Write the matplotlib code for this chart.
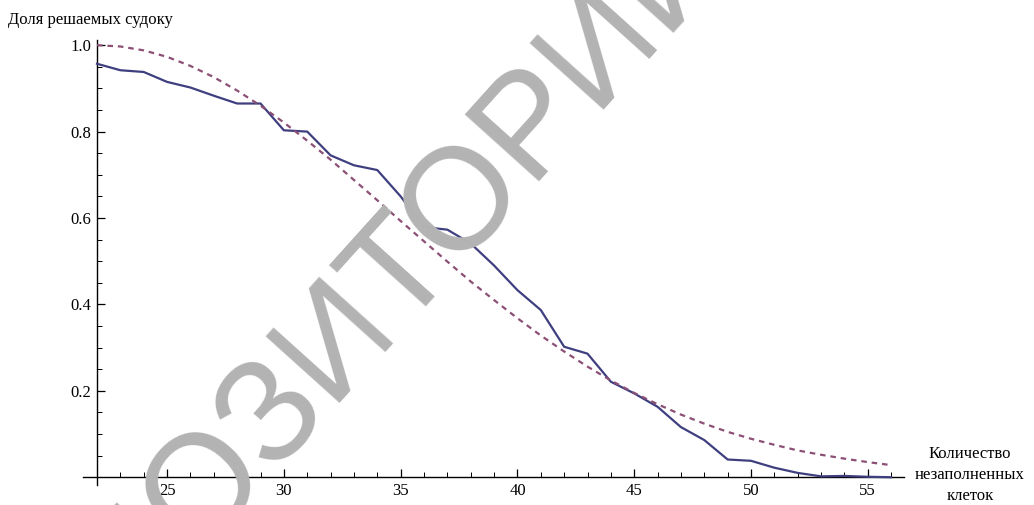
import numpy as np
import matplotlib.pyplot as plt

# ДАННЫЕ
x = list(range(22, 57))
solved = [0.957, 0.942, 0.938, 0.915, 0.902, 0.883, 0.865, 0.865, 0.803, 0.800,
          0.745, 0.722, 0.711, 0.650, 0.579, 0.573, 0.541, 0.490, 0.433, 0.387,
          0.302, 0.286, 0.221, 0.194, 0.163, 0.116, 0.086, 0.041, 0.038, 0.022,
          0.010, 0.002, 0.003, 0.001, 0.000]
model = [1.000, 0.997, 0.988, 0.973, 0.952, 0.926, 0.895, 0.860, 0.821, 0.779,
         0.735, 0.688, 0.641, 0.593, 0.546, 0.499, 0.453, 0.410, 0.368, 0.328,
         0.291, 0.256, 0.224, 0.195, 0.169, 0.145, 0.124, 0.105, 0.089, 0.075,
         0.062, 0.052, 0.043, 0.035, 0.028]
xticks = [25, 30, 35, 40, 45, 50, 55]
yticks = [0.2, 0.4, 0.6, 0.8, 1.0]

plt.rcParams['font.family'] = ['Liberation Serif', 'DejaVu Serif']

fig = plt.figure(figsize=(10.34, 5.05), dpi=100)
ax = fig.add_axes([83 / 1034, 1 - 485 / 505, (904 - 83) / 1034, (485 - 40) / 505])

# ВОДЯНОЙ ЗНАК
fig.text(336 / 1034, 1 - 338 / 505, 'РЕПОЗИТОРИЙ', fontsize=104, color='#b3b3b3',
         family='Liberation Sans', rotation=48, ha='center', va='center',
         rotation_mode='anchor', zorder=0)
ax.set_facecolor('none')

ax.plot(x, solved, color='#3f3f80', lw=1.6, zorder=3)
ax.plot(x, model, color='#8c4f75', lw=1.6, ls=(0, (2.5, 2.2)), zorder=3)

ax.set_xlim(21.4, 56.55)
ax.set_ylim(-0.018, 1.012)

for s in ['top', 'right']:
    ax.spines[s].set_visible(False)
ax.spines['left'].set_position(('data', 22))
ax.spines['bottom'].set_position(('data', 0))
ax.spines['left'].set_linewidth(1.0)
ax.spines['bottom'].set_linewidth(1.0)

ax.set_xticks(xticks)
ax.set_xticklabels([str(t) for t in xticks])
ax.set_xticks(range(22, 57), minor=True)
ax.set_yticks(yticks)
ax.set_yticklabels([f'{t:.1f}' for t in yticks])
ax.set_yticks(np.arange(0.05, 1.0, 0.05), minor=True)
ax.tick_params(direction='in', labelsize=12, length=6, width=0.9, pad=4)
ax.tick_params(which='minor', direction='in', length=3.5, width=0.7)

fig.text(8 / 1034, 1 - 20 / 505, 'Доля решаемых судоку', fontsize=12, ha='left', va='center')
fig.text(970 / 1034, 1 - 475 / 505, 'Количество\nнезаполненных\nклеток', fontsize=12,
         ha='center', va='center', linespacing=1.45)

plt.savefig('out.png', dpi=100)
